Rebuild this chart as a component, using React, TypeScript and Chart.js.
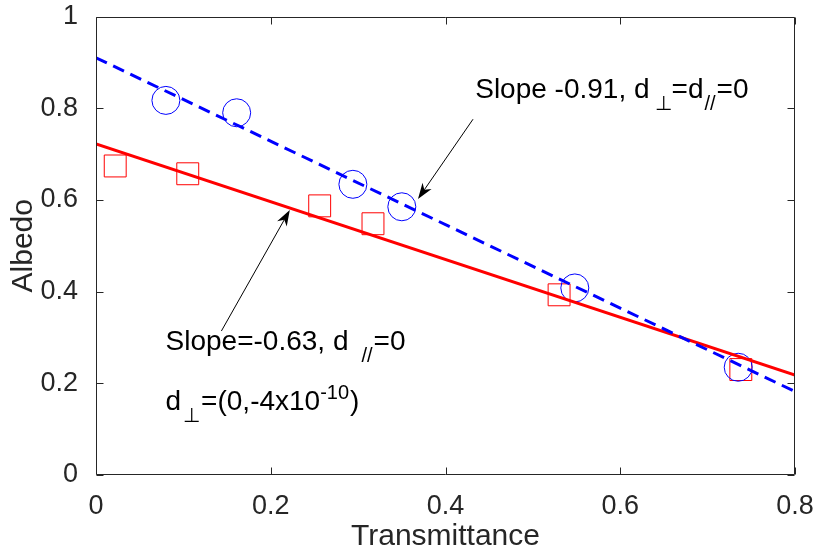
import React, { useEffect, useRef } from "react";
import { Chart, registerables } from "chart.js";

Chart.register(...registerables);

// ---- data ----
const circleX = [0.08, 0.161, 0.294, 0.35, 0.548, 0.735];
const circleY = [0.817, 0.79, 0.634, 0.585, 0.408, 0.235];
const squareX = [0.022, 0.105, 0.256, 0.317, 0.53, 0.738];
const squareY = [0.674, 0.657, 0.587, 0.548, 0.393, 0.23];
const fitX = [0, 0.8];
const blueFitY = [0.91, 0.182];
const redFitY = [0.722, 0.218];
const xTicks = [0, 0.2, 0.4, 0.6, 0.8];
const yTicks = [0, 0.2, 0.4, 0.6, 0.8, 1];
const xTitle = "Transmittance";
const yTitle = "Albedo";

// annotation anchors (data units)
const arrowBlue = { from: [0.4315, 0.776], to: [0.3685, 0.602] };
const arrowRed = { from: [0.1435, 0.314], to: [0.2218, 0.578] };
const labelBlue = [0.434, 0.822];
const labelRed1 = [0.0796, 0.272];
const labelRed2 = [0.0796, 0.141];

const FONT = "'Liberation Sans', Arial, Helvetica, sans-serif";
const AXIS = "#262626";

type Part = { text: string; size: number; dy?: number; gap?: number };

function drawRich(ctx: CanvasRenderingContext2D, x: number, y: number, parts: Part[]) {
  let cx = x;
  for (const p of parts) {
    cx += p.gap || 0;
    ctx.font = `${p.size}px ${FONT}`;
    ctx.fillText(p.text, cx, y + (p.dy || 0));
    cx += ctx.measureText(p.text).width;
  }
}

function drawArrow(ctx: CanvasRenderingContext2D, x1: number, y1: number, x2: number, y2: number) {
  const ang = Math.atan2(y2 - y1, x2 - x1);
  const len = 16;
  const hw = 5.5;
  const ux = Math.cos(ang), uy = Math.sin(ang);
  const px = -uy, py = ux;
  const bx = x2 - ux * len, by = y2 - uy * len;
  const nx = x2 - ux * len * 0.7, ny = y2 - uy * len * 0.7;
  ctx.beginPath();
  ctx.moveTo(x1, y1);
  ctx.lineTo(nx, ny);
  ctx.lineWidth = 1;
  ctx.strokeStyle = "#000";
  ctx.stroke();
  ctx.beginPath();
  ctx.moveTo(x2, y2);
  ctx.lineTo(bx + px * hw, by + py * hw);
  ctx.lineTo(nx, ny);
  ctx.lineTo(bx - px * hw, by - py * hw);
  ctx.closePath();
  ctx.fillStyle = "#000";
  ctx.fill();
}

const boxPlugin = {
  id: "matlabBox",
  afterDraw(chart: any) {
    const { ctx, chartArea: a, scales } = chart;
    const xs = scales.x, ys = scales.y;
    ctx.save();
    // annotations
    const P = (d: number[]) => [xs.getPixelForValue(d[0]), ys.getPixelForValue(d[1])];
    let f = P(arrowBlue.from), t = P(arrowBlue.to);
    drawArrow(ctx, f[0], f[1], t[0], t[1]);
    f = P(arrowRed.from); t = P(arrowRed.to);
    drawArrow(ctx, f[0], f[1], t[0], t[1]);

    ctx.fillStyle = "#000";
    ctx.textBaseline = "alphabetic";
    ctx.textAlign = "left";
    let p = P(labelBlue);
    drawRich(ctx, p[0], p[1], [
      { text: "Slope -0.91, d", size: 28 },
      { text: "\u22A5", size: 20, dy: 12, gap: 5 },
      { text: "=d", size: 28 },
      { text: "//", size: 20, dy: 12, gap: 1 },
      { text: "=0", size: 28, gap: 1 },
    ]);
    p = P(labelRed1);
    drawRich(ctx, p[0], p[1], [
      { text: "Slope=-0.63, d", size: 28 },
      { text: "//", size: 20, dy: 12, gap: 13 },
      { text: "=0", size: 28, gap: 1 },
    ]);
    p = P(labelRed2);
    drawRich(ctx, p[0], p[1], [
      { text: "d", size: 28 },
      { text: "\u22A5", size: 20, dy: 12, gap: 2 },
      { text: "=(0,-4x10", size: 28, gap: 1 },
      { text: "-10", size: 20, dy: -11 },
      { text: ")", size: 28, gap: 1 },
    ]);

    // box
    ctx.strokeStyle = AXIS;
    ctx.lineWidth = 1;
    const L = Math.round(a.left) + 0.5;
    const R = Math.round(a.right) - 0.5;
    const T = Math.round(a.top) + 0.5;
    const B = Math.round(a.bottom) - 0.5;
    ctx.beginPath();
    ctx.rect(L, T, R - L, B - T);
    ctx.stroke();
    const tl = 7;
    ctx.beginPath();
    for (const v of xTicks) {
      const px = Math.round(xs.getPixelForValue(v)) + 0.5;
      ctx.moveTo(px, B);
      ctx.lineTo(px, B - tl);
      ctx.moveTo(px, T);
      ctx.lineTo(px, T + tl);
    }
    for (const v of yTicks) {
      const py = Math.round(ys.getPixelForValue(v)) + 0.5;
      ctx.moveTo(L, py);
      ctx.lineTo(L + tl, py);
      ctx.moveTo(R, py);
      ctx.lineTo(R - tl, py);
    }
    ctx.stroke();
    ctx.restore();
  },
};

export default function App() {
  const ref = useRef<HTMLCanvasElement | null>(null);
  useEffect(() => {
    if (!ref.current) return;
    const pts = (xs: number[], ys: number[]) => xs.map((x, i) => ({ x, y: ys[i] }));
    const chart = new Chart(ref.current, {
      type: "scatter",
      data: {
        datasets: [
          {
            label: "blue fit",
            data: pts(fitX, blueFitY),
            showLine: true,
            borderColor: "#0000ff",
            borderWidth: 3,
            borderDash: [12, 7],
            pointRadius: 0,
            fill: false,
          },
          {
            label: "red fit",
            data: pts(fitX, redFitY),
            showLine: true,
            borderColor: "#ff0000",
            borderWidth: 3,
            pointRadius: 0,
            fill: false,
          },
          {
            label: "circles",
            data: pts(circleX, circleY),
            pointStyle: "circle",
            pointRadius: 14,
            pointBorderWidth: 1,
            borderColor: "#0000ff",
            backgroundColor: "rgba(0,0,0,0)",
            showLine: false,
          },
          {
            label: "squares",
            data: pts(squareX, squareY),
            pointStyle: "rect",
            pointRadius: 15.5,
            pointBorderWidth: 1,
            borderColor: "#ff0000",
            backgroundColor: "rgba(0,0,0,0)",
            showLine: false,
          },
        ],
      },
      options: {
        responsive: false,
        animation: false,
        layout: { padding: { top: 15, right: 22, bottom: 0, left: 0 } },
        plugins: { legend: { display: false }, tooltip: { enabled: false } },
        scales: {
          x: {
            type: "linear",
            min: 0,
            max: 0.8,
            afterBuildTicks: (s: any) => {
              s.ticks = xTicks.map((v) => ({ value: v }));
            },
            afterFit: (s: any) => {
              s.height = 82;
              s.paddingLeft = 0;
              s.paddingRight = 0;
            },
            ticks: {
              font: { family: FONT, size: 27 },
              color: AXIS,
              padding: 7,
              maxRotation: 0,
              autoSkip: false,
              callback: (v: any) => String(v),
            },
            grid: { display: false },
            border: { display: false },
            title: {
              display: true,
              text: xTitle,
              font: { family: FONT, size: 30 },
              color: AXIS,
              padding: { top: 0, bottom: 2 },
            },
          },
          y: {
            type: "linear",
            min: 0,
            max: 1,
            afterBuildTicks: (s: any) => {
              s.ticks = yTicks.map((v) => ({ value: v }));
            },
            afterFit: (s: any) => {
              s.width = 96;
              s.paddingTop = 0;
              s.paddingBottom = 0;
            },
            ticks: {
              font: { family: FONT, size: 27 },
              color: AXIS,
              padding: 10,
              autoSkip: false,
              callback: (v: any) => String(v),
            },
            grid: { display: false },
            border: { display: false },
            title: {
              display: true,
              text: yTitle,
              font: { family: FONT, size: 30 },
              color: AXIS,
              padding: { top: 6, bottom: 0 },
            },
          },
        },
      },
      plugins: [boxPlugin],
    });
    return () => chart.destroy();
  }, []);
  return (
    <div style={{ position: "fixed", left: 0, top: 0, width: 817, height: 557, background: "#fff" }}>
      <canvas ref={ref} width={817} height={557} />
    </div>
  );
}
